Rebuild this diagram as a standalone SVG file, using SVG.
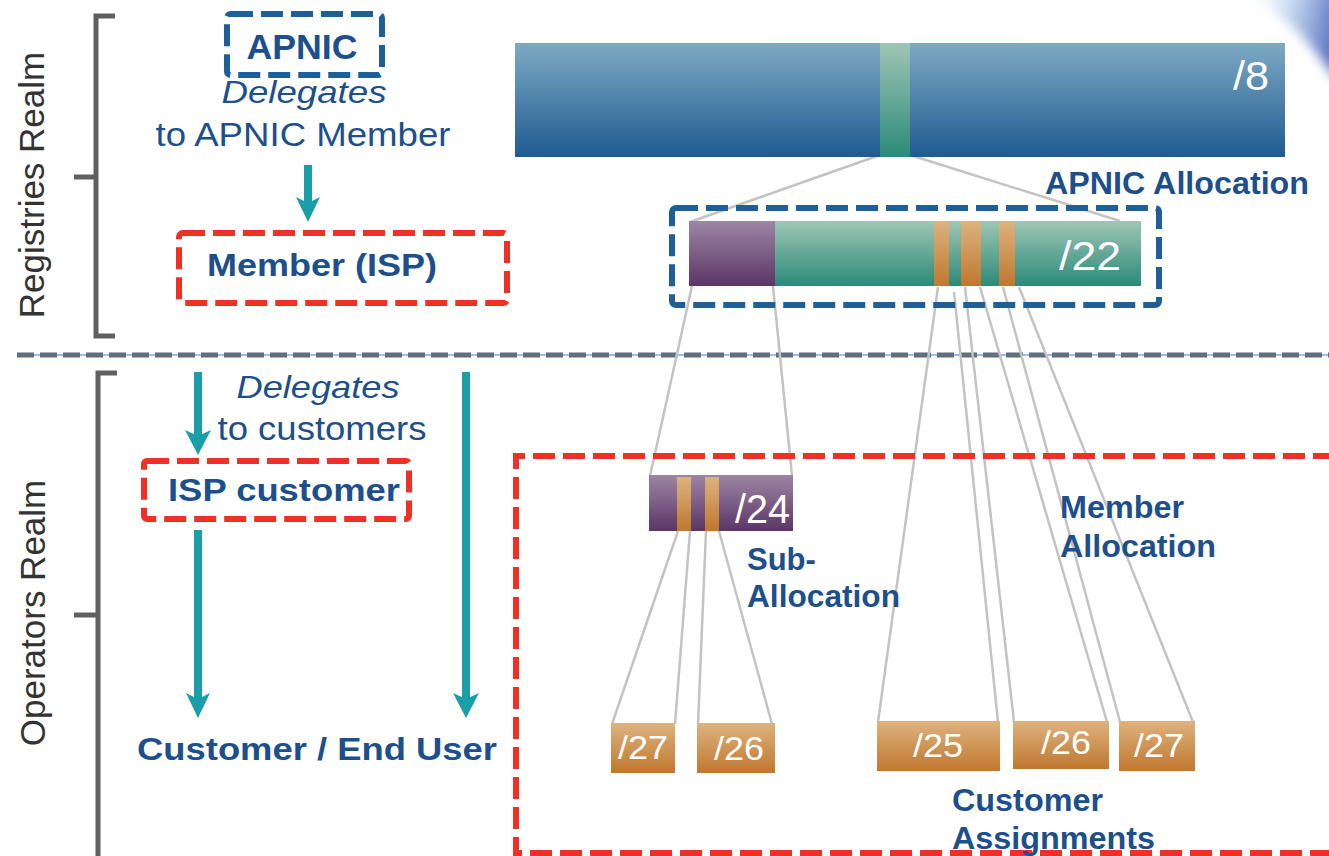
<svg xmlns="http://www.w3.org/2000/svg" width="1329" height="856" viewBox="0 0 1329 856">
<defs>
  <linearGradient id="gBlue" x1="0" y1="0" x2="0" y2="1"><stop offset="0" stop-color="#7eaac3"/><stop offset="1" stop-color="#1f5a90"/></linearGradient>
  <linearGradient id="gTeal" x1="0" y1="0" x2="0" y2="1"><stop offset="0" stop-color="#9fc5b5"/><stop offset="1" stop-color="#2b8a78"/></linearGradient>
  <linearGradient id="gPurple" x1="0" y1="0" x2="0" y2="1"><stop offset="0" stop-color="#9d85a4"/><stop offset="1" stop-color="#5a3666"/></linearGradient>
  <linearGradient id="gOrange" x1="0" y1="0" x2="0" y2="1"><stop offset="0" stop-color="#ddb37f"/><stop offset="1" stop-color="#c0772f"/></linearGradient>
  <linearGradient id="gCorner" x1="0" y1="0" x2="1" y2="0.2"><stop offset="0" stop-color="#ffffff" stop-opacity="0"/><stop offset="0.45" stop-color="#c9def0" stop-opacity="0.8"/><stop offset="1" stop-color="#5a74c0"/></linearGradient>
  <filter id="soft" x="-20%" y="-20%" width="140%" height="140%"><feGaussianBlur stdDeviation="6"/></filter>
</defs>
<style>
  text{font-family:"Liberation Sans",Arial,sans-serif}
  .lbl{fill:#1c4f8c}
  .b{font-weight:bold}
  .i{font-style:italic}
  .w{fill:#ffffff}
  .realm{fill:#333333;font-size:35px}
  .bracket{fill:none;stroke:#606060;stroke-width:5}
  .rbox{fill:none;stroke:#ee3124;stroke-width:6;stroke-dasharray:22 8}
  .bbox{fill:none;stroke:#1f5f99;stroke-width:6;stroke-dasharray:22 8}
  .arrow{fill:#1a9ea8}
  .split{stroke:#c3c3c3;stroke-width:2.5;fill:none}
</style>
<rect width="1329" height="856" fill="#ffffff"/>
<path d="M1240,-10 C1280,10 1310,40 1340,85 L1340,-10 Z" fill="url(#gCorner)" filter="url(#soft)"/>

<!-- realm brackets and separator -->
<g id="realms">
  <path class="bracket" d="M115,16 H96 V336 H115 M96,177 H74"/>
  <text class="realm" transform="translate(44,185) rotate(-90)" text-anchor="middle">Registries Realm</text>
  <path class="bracket" d="M117,373 H98 V856 M98,615 H74"/>
  <text class="realm" transform="translate(45,613) rotate(-90)" text-anchor="middle">Operators Realm</text>
  <line x1="17" y1="355" x2="1329" y2="355" stroke="#6a6a6a" stroke-width="5" stroke-dasharray="17 6"/>
  <line x1="17" y1="355" x2="1329" y2="355" stroke="#3d7fc0" stroke-width="1"/>
</g>

<!-- connectors -->
<g id="connectors">
  <path class="split" d="M880,155 L690,222 M910,155 L1120,221"/>
  <path class="split" d="M692,286 L650,476 M773,286 L792,476"/>
  <path class="split" d="M678,531 L612,724 M690,531 L675,724 M706,531 L698,724 M719,531 L772,724"/>
  <path class="split" d="M938,287 L878,722 M954,292 L998,722 M965,287 L1014,722 M980,287 L1107,722 M1003,287 L1120,722 M1019,287 L1193,722"/>
  <rect class="arrow" x="304" y="165" width="8" height="38"/>
  <polygon class="arrow" points="296,197 308,222 320,197 308,203"/>
  <rect class="arrow" x="194" y="372" width="8" height="64"/>
  <polygon class="arrow" points="185,430 198,455 211,430 198,436"/>
  <rect class="arrow" x="194" y="530" width="8" height="169"/>
  <polygon class="arrow" points="186,693 198,718 210,693 198,699"/>
  <rect class="arrow" x="462" y="372" width="8" height="327"/>
  <polygon class="arrow" points="453,693 466,718 479,693 466,699"/>
</g>

<!-- left side nodes -->
<g id="apnic">
  <rect class="bbox" x="227" y="14" width="155" height="61" rx="4"/>
  <text class="lbl b" x="302" y="59" font-size="35" text-anchor="middle" textLength="111" lengthAdjust="spacingAndGlyphs">APNIC</text>
</g>
<g id="label-delegates-member">
  <text class="lbl i" x="304" y="103" font-size="32" text-anchor="middle" textLength="165" lengthAdjust="spacingAndGlyphs">Delegates</text>
  <text class="lbl" x="303" y="146" font-size="33" text-anchor="middle" textLength="295" lengthAdjust="spacingAndGlyphs">to APNIC Member</text>
</g>
<g id="member-isp">
  <rect class="rbox" x="179" y="233" width="328" height="70" rx="4"/>
  <text class="lbl b" x="322" y="276" font-size="32" text-anchor="middle" textLength="230" lengthAdjust="spacingAndGlyphs">Member (ISP)</text>
</g>
<g id="label-delegates-customers">
  <text class="lbl i" x="318" y="398" font-size="32" text-anchor="middle" textLength="163" lengthAdjust="spacingAndGlyphs">Delegates</text>
  <text class="lbl" x="322" y="440" font-size="33" text-anchor="middle" textLength="209" lengthAdjust="spacingAndGlyphs">to customers</text>
</g>
<g id="isp-customer">
  <rect class="rbox" x="144" y="461" width="265" height="58" rx="3"/>
  <text class="lbl b" x="284" y="501" font-size="32" text-anchor="middle" textLength="232" lengthAdjust="spacingAndGlyphs">ISP customer</text>
</g>
<g id="end-user">
  <text class="lbl b" x="317" y="760" font-size="32" text-anchor="middle" textLength="360" lengthAdjust="spacingAndGlyphs">Customer / End User</text>
</g>

<!-- address blocks -->
<g id="block-8">
  <rect x="515" y="43" width="770" height="114" fill="url(#gBlue)"/>
  <rect x="880" y="43" width="30" height="114" fill="url(#gTeal)"/>
  <text class="w" x="1269" y="90" font-size="40" text-anchor="end" textLength="36" lengthAdjust="spacingAndGlyphs">/8</text>
</g>
<g id="apnic-allocation-label">
  <text class="lbl b" x="1045" y="194" font-size="31" textLength="264" lengthAdjust="spacingAndGlyphs">APNIC Allocation</text>
</g>
<g id="block-22">
  <rect class="bbox" x="672" y="208" width="487" height="97" rx="4" stroke-width="7"/>
  <rect x="689" y="221" width="452" height="65" fill="url(#gTeal)"/>
  <rect x="689" y="221" width="86" height="65" fill="url(#gPurple)"/>
  <rect x="934" y="221" width="15" height="65" fill="url(#gOrange)"/>
  <rect x="961" y="221" width="20" height="65" fill="url(#gOrange)"/>
  <rect x="999" y="221" width="16" height="65" fill="url(#gOrange)"/>
  <text class="w" x="1121" y="270" font-size="41" text-anchor="end" textLength="62" lengthAdjust="spacingAndGlyphs">/22</text>
</g>
<g id="member-allocation-area">
  <path class="rbox" d="M1335,456 H516 V853 H1335"/>
</g>
<g id="block-24">
  <rect x="649" y="475" width="144" height="56" fill="url(#gPurple)"/>
  <rect x="677" y="477" width="14" height="54" fill="url(#gOrange)"/>
  <rect x="705" y="477" width="14" height="54" fill="url(#gOrange)"/>
  <text class="w" x="790" y="523" font-size="40" text-anchor="end" textLength="55" lengthAdjust="spacingAndGlyphs">/24</text>
</g>
<g id="sub-allocation-label">
  <text class="lbl b" x="747" y="570" font-size="31">Sub-</text>
  <text class="lbl b" x="747" y="607" font-size="31" textLength="153" lengthAdjust="spacingAndGlyphs">Allocation</text>
</g>
<g id="member-allocation-label">
  <text class="lbl b" x="1060" y="518" font-size="31" textLength="124" lengthAdjust="spacingAndGlyphs">Member</text>
  <text class="lbl b" x="1060" y="557" font-size="31" textLength="156" lengthAdjust="spacingAndGlyphs">Allocation</text>
</g>
<g id="block-27a">
  <rect x="611" y="723" width="64" height="50" fill="url(#gOrange)"/>
  <text class="w" x="643" y="759" font-size="34" text-anchor="middle" textLength="50" lengthAdjust="spacingAndGlyphs">/27</text>
</g>
<g id="block-26a">
  <rect x="697" y="723" width="78" height="50" fill="url(#gOrange)"/>
  <text class="w" x="739" y="760" font-size="34" text-anchor="middle" textLength="50" lengthAdjust="spacingAndGlyphs">/26</text>
</g>
<g id="block-25">
  <rect x="877" y="721" width="123" height="50" fill="url(#gOrange)"/>
  <text class="w" x="938" y="757" font-size="34" text-anchor="middle" textLength="50" lengthAdjust="spacingAndGlyphs">/25</text>
</g>
<g id="block-26b">
  <rect x="1013" y="721" width="96" height="48" fill="url(#gOrange)"/>
  <text class="w" x="1066" y="754" font-size="34" text-anchor="middle" textLength="50" lengthAdjust="spacingAndGlyphs">/26</text>
</g>
<g id="block-27b">
  <rect x="1119" y="721" width="76" height="50" fill="url(#gOrange)"/>
  <text class="w" x="1159" y="757" font-size="34" text-anchor="middle" textLength="50" lengthAdjust="spacingAndGlyphs">/27</text>
</g>
<g id="customer-assignments-label">
  <text class="lbl b" x="952" y="811" font-size="31" textLength="151" lengthAdjust="spacingAndGlyphs">Customer</text>
  <text class="lbl b" x="952" y="849" font-size="31" textLength="203" lengthAdjust="spacingAndGlyphs">Assignments</text>
</g>
</svg>
